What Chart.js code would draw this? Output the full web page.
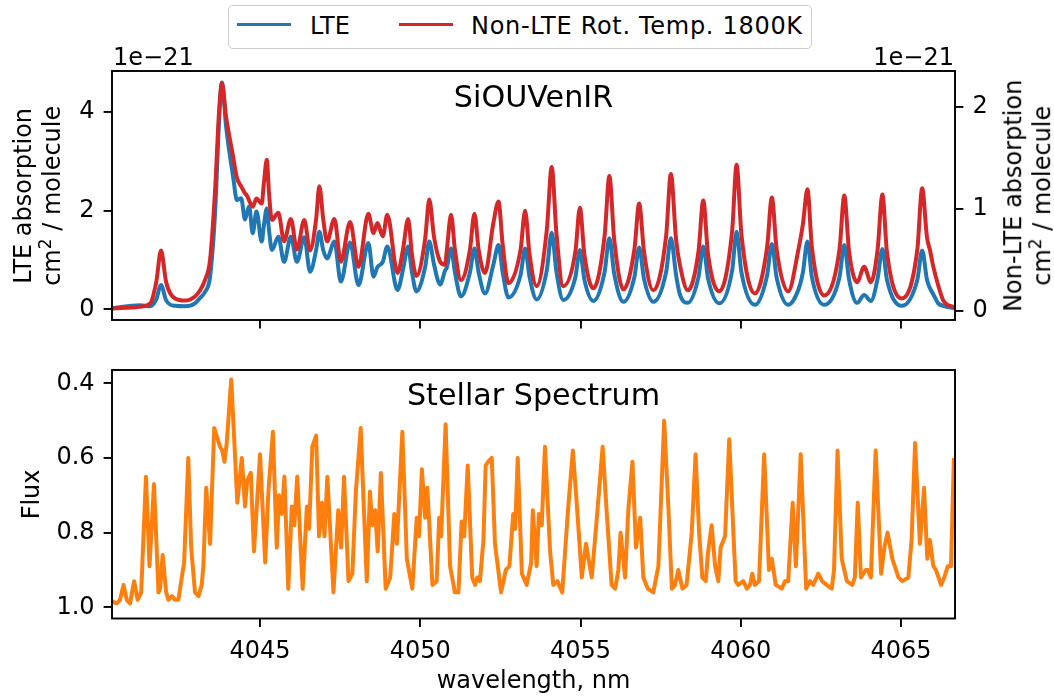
<!DOCTYPE html>
<html>
<head>
<meta charset="utf-8">
<title>SiOUVenIR vs stellar spectrum</title>
<script src="https://cdn.jsdelivr.net/npm/chart.js@4.4.1/dist/chart.umd.min.js"></script>
<style>
  body { margin: 0; background: #fff; font-family: "DejaVu Sans", sans-serif; }
  #wrap { position: relative; width: 1054px; height: 697px; overflow: hidden; background: #fff; }
  canvas { position: absolute; left: 0; top: 0; }
  .txt { position: absolute; white-space: nowrap; line-height: 1; color: #000; font-size: 24px; }
  .title { font-size: 30.2px; text-align: center; width: 600px; }
  .legend-box { position: absolute; left: 228px; top: 5px; width: 584px; height: 44px; box-sizing: border-box;
                border: 1.6px solid #cccccc; border-radius: 5px; background: #fff; }
  .swatch { position: absolute; width: 54px; height: 3.8px; }
  .vlabel { position: absolute; width: 300px; line-height: 28.8px; font-size: 24px; text-align: center;
            white-space: nowrap; transform: rotate(-90deg); transform-origin: 50% 50%; color: #000; }
  .vlabel sup { font-size: 17px; line-height: 0; vertical-align: 9px; }
</style>
</head>
<body>
<div id="wrap">
  <canvas id="absChart" width="1054" height="697"></canvas>
  <canvas id="fluxChart" width="1054" height="697"></canvas>

  <div class="legend-box"></div>
  <div class="swatch" style="left:237px;top:22.6px;background:#1f77b4"></div>
  <div class="txt" style="left:310px;top:14px">LTE</div>
  <div class="swatch" style="left:399px;top:22.6px;background:#d62728"></div>
  <div class="txt" style="left:471px;top:14px;letter-spacing:0.7px">Non-LTE Rot. Temp. 1800K</div>

  <div class="txt" style="left:113px;top:44.7px">1e&minus;21</div>
  <div class="txt" style="right:100px;top:44.7px;text-align:right">1e&minus;21</div>

  <div class="txt title" style="left:233.5px;top:81.5px">SiOUVenIR</div>
  <div class="txt title" style="left:233.5px;top:379.5px">Stellar Spectrum</div>
  <div class="txt" style="left:233.5px;width:600px;text-align:center;top:667.7px">wavelength, nm</div>

  <div class="vlabel" style="left:-112px;top:166.7px">LTE absorption<br>cm<sup>2</sup> / molecule</div>
  <div class="vlabel" style="left:878px;top:166.7px">Non-LTE absorption<br>cm<sup>2</sup> / molecule</div>
  <div class="vlabel" style="left:-119.2px;top:480.1px">Flux</div>
</div>

<script>
// wavelength grid (nm) of the absorption panel, shared by both cross-section curves
const topWavelength = [
  4040.38, 4041.26, 4041.57, 4041.76, 4041.91, 4042.07, 4042.35, 4042.66, 4042.97, 4043.13,
  4043.28, 4043.44, 4043.60, 4043.72, 4043.81, 4043.94, 4044.16, 4044.28, 4044.41, 4044.53,
  4044.59, 4044.66, 4044.77, 4044.89, 4045.05, 4045.12, 4045.21, 4045.28, 4045.37, 4045.57,
  4045.75, 4045.96, 4046.15, 4046.38, 4046.56, 4046.75, 4046.85, 4046.97, 4047.09, 4047.32,
  4047.52, 4047.81, 4048.07, 4048.38, 4048.54, 4048.66, 4048.83, 4048.97, 4049.29, 4049.46,
  4049.62, 4049.74, 4049.88, 4050.15, 4050.28, 4050.43, 4050.62, 4050.77, 4050.83, 4050.96,
  4051.08, 4051.27, 4051.55, 4051.69, 4051.82, 4052.02, 4052.28, 4052.44, 4052.57, 4052.75,
  4053.13, 4053.27, 4053.41, 4053.63, 4053.95, 4054.10, 4054.25, 4054.46, 4054.84, 4054.98,
  4055.12, 4055.40, 4055.75, 4055.90, 4056.05, 4056.34, 4056.68, 4056.83, 4056.98, 4057.27,
  4057.67, 4057.82, 4057.98, 4058.10, 4058.35, 4058.68, 4058.83, 4058.98, 4059.33, 4059.73,
  4059.87, 4060.02, 4060.44, 4060.82, 4060.97, 4061.12, 4061.48, 4061.80, 4061.94, 4062.08,
  4062.22, 4062.60, 4063.08, 4063.23, 4063.38, 4063.63, 4063.85, 4064.06, 4064.27, 4064.42,
  4064.56, 4065.02, 4065.51, 4065.66, 4065.81, 4065.90, 4066.01, 4066.16, 4066.32, 4066.68
];

// LTE absorption, units of 1e-21 cm^2/molecule (left axis)
const lteAbs = [
  0.02, 0.08, 0.06, 0.20, 0.49, 0.18, 0.07, 0.06, 0.12, 0.23,
  0.35, 0.66, 2.00, 3.80, 4.59, 3.70, 2.68, 2.21, 2.25, 1.82,
  1.95, 2.08, 1.54, 1.98, 1.37, 1.70, 2.04, 1.60, 1.20, 1.47,
  0.96, 1.47, 0.96, 1.46, 0.76, 1.20, 1.57, 1.20, 1.03, 1.37,
  0.56, 1.35, 0.49, 1.34, 0.66, 0.85, 0.96, 1.27, 0.39, 0.80,
  1.27, 0.75, 0.36, 0.85, 1.37, 0.90, 0.50, 0.78, 0.85, 1.23,
  0.75, 0.26, 0.75, 1.23, 0.75, 0.32, 0.90, 1.30, 0.75, 0.24,
  0.70, 1.23, 0.65, 0.20, 0.80, 1.55, 0.75, 0.19, 0.65, 1.20,
  0.60, 0.17, 0.75, 1.44, 0.72, 0.15, 0.65, 1.25, 0.62, 0.15,
  0.75, 1.44, 0.70, 0.30, 0.13, 0.65, 1.27, 0.62, 0.12, 0.78,
  1.57, 0.75, 0.09, 0.68, 1.32, 0.64, 0.09, 0.40, 0.75, 1.37,
  0.65, 0.09, 0.65, 1.30, 0.60, 0.13, 0.29, 0.17, 0.62, 1.22,
  0.60, 0.07, 0.60, 1.19, 0.60, 0.43, 0.30, 0.12, 0.07, 0.02
];

// Non-LTE (rot. temp. 1800K) absorption, units of 1e-21 cm^2/molecule (right axis)
const nlteAbs = [
  0.02, 0.04, 0.07, 0.28, 0.59, 0.28, 0.12, 0.10, 0.14, 0.20,
  0.30, 0.50, 1.20, 1.95, 2.23, 1.90, 1.51, 1.30, 1.22, 1.15,
  1.13, 1.08, 1.02, 1.10, 1.05, 1.25, 1.48, 1.15, 0.89, 0.96,
  0.68, 0.90, 0.60, 0.89, 0.59, 0.90, 1.22, 0.90, 0.68, 0.90,
  0.48, 0.87, 0.43, 0.95, 0.76, 0.86, 0.73, 0.94, 0.37, 0.60,
  0.90, 0.55, 0.34, 0.70, 1.09, 0.72, 0.48, 0.45, 0.60, 0.94,
  0.60, 0.30, 0.60, 0.95, 0.60, 0.37, 0.86, 1.07, 0.65, 0.27,
  0.60, 0.98, 0.55, 0.24, 0.80, 1.41, 0.75, 0.24, 0.58, 1.01,
  0.55, 0.22, 0.73, 1.32, 0.70, 0.21, 0.60, 1.05, 0.58, 0.20,
  0.73, 1.34, 0.70, 0.45, 0.20, 0.58, 1.08, 0.55, 0.19, 0.78,
  1.43, 0.75, 0.17, 0.62, 1.11, 0.60, 0.19, 0.60, 0.85, 1.19,
  0.62, 0.15, 0.60, 1.13, 0.58, 0.28, 0.43, 0.28, 0.60, 1.14,
  0.58, 0.12, 0.60, 1.20, 0.72, 0.60, 0.43, 0.25, 0.10, 0.03
];

// stellar spectrum
const fluxWavelength = [
  4040.39, 4040.53, 4040.63, 4040.74, 4040.84, 4040.94, 4041.07, 4041.18, 4041.29, 4041.44,
  4041.55, 4041.69, 4041.83, 4041.88, 4041.96, 4042.07, 4042.14, 4042.25, 4042.35, 4042.45,
  4042.63, 4042.76, 4042.85, 4042.97, 4043.08, 4043.18, 4043.23, 4043.32, 4043.44, 4043.57,
  4043.75, 4043.82, 4043.89, 4043.96, 4044.10, 4044.20, 4044.29, 4044.43, 4044.53, 4044.60,
  4044.71, 4044.81, 4045.00, 4045.16, 4045.26, 4045.40, 4045.52, 4045.59, 4045.68, 4045.76,
  4045.88, 4045.99, 4046.07, 4046.16, 4046.33, 4046.46, 4046.53, 4046.63, 4046.75, 4046.84,
  4046.93, 4047.01, 4047.10, 4047.29, 4047.44, 4047.53, 4047.62, 4047.76, 4047.88, 4047.99,
  4048.14, 4048.33, 4048.43, 4048.50, 4048.59, 4048.67, 4048.77, 4048.92, 4049.06, 4049.19,
  4049.27, 4049.44, 4049.58, 4049.75, 4049.89, 4049.96, 4050.05, 4050.15, 4050.22, 4050.38,
  4050.51, 4050.59, 4050.65, 4050.79, 4050.93, 4051.08, 4051.19, 4051.29, 4051.37, 4051.48,
  4051.62, 4051.71, 4051.78, 4051.86, 4051.97, 4052.04, 4052.12, 4052.23, 4052.33, 4052.52,
  4052.67, 4052.78, 4052.90, 4052.96, 4053.04, 4053.17, 4053.32, 4053.46, 4053.51, 4053.63,
  4053.70, 4053.79, 4053.89, 4054.05, 4054.15, 4054.28, 4054.43, 4054.60, 4054.76, 4054.88,
  4055.04, 4055.17, 4055.35, 4055.51, 4055.69, 4055.82, 4055.97, 4056.08, 4056.18, 4056.25,
  4056.39, 4056.49, 4056.62, 4056.73, 4056.86, 4056.96, 4057.10, 4057.27, 4057.43, 4057.61,
  4057.74, 4057.85, 4057.95, 4058.05, 4058.18, 4058.31, 4058.47, 4058.59, 4058.70, 4058.80,
  4058.91, 4058.97, 4059.09, 4059.20, 4059.30, 4059.37, 4059.51, 4059.64, 4059.77, 4059.84,
  4059.92, 4060.08, 4060.19, 4060.29, 4060.36, 4060.44, 4060.57, 4060.73, 4060.88, 4060.97,
  4061.09, 4061.28, 4061.38, 4061.48, 4061.62, 4061.72, 4061.87, 4062.04, 4062.16, 4062.26,
  4062.42, 4062.54, 4062.68, 4062.84, 4062.91, 4063.02, 4063.15, 4063.31, 4063.48, 4063.56,
  4063.65, 4063.75, 4063.90, 4063.97, 4064.06, 4064.21, 4064.38, 4064.48, 4064.58, 4064.73,
  4064.92, 4065.04, 4065.23, 4065.33, 4065.44, 4065.59, 4065.72, 4065.82, 4065.90, 4066.01,
  4066.09, 4066.25, 4066.35, 4066.46, 4066.56, 4066.65
];

const fluxValues = [
  0.984, 0.99, 0.98, 0.94, 0.98, 0.99, 0.93, 0.98, 0.96, 0.65,
  0.89, 0.67, 0.96, 0.95, 0.86, 0.96, 0.98, 0.97, 0.98, 0.98,
  0.88, 0.60, 0.84, 0.96, 0.97, 0.94, 0.89, 0.68, 0.83, 0.52,
  0.57, 0.58, 0.61, 0.56, 0.39, 0.56, 0.72, 0.60, 0.73, 0.66,
  0.64, 0.85, 0.59, 0.88, 0.69, 0.53, 0.84, 0.70, 0.75, 0.65,
  0.95, 0.73, 0.78, 0.65, 0.95, 0.73, 0.79, 0.57, 0.54, 0.81,
  0.72, 0.81, 0.65, 0.96, 0.74, 0.84, 0.65, 0.93, 0.91, 0.69,
  0.52, 0.93, 0.69, 0.78, 0.74, 0.85, 0.64, 0.95, 0.92, 0.75,
  0.83, 0.53, 0.87, 0.95, 0.76, 0.81, 0.63, 0.76, 0.68, 0.94,
  0.93, 0.76, 0.81, 0.51, 0.89, 0.96, 0.96, 0.77, 0.81, 0.62,
  0.92, 0.94, 0.92, 0.93, 0.82, 0.62, 0.61, 0.60, 0.83, 0.96,
  0.90, 0.89, 0.75, 0.79, 0.60, 0.91, 0.94, 0.88, 0.74, 0.89,
  0.75, 0.78, 0.57, 0.85, 0.94, 0.93, 0.96, 0.75, 0.58, 0.72,
  0.92, 0.83, 0.92, 0.76, 0.57, 0.75, 0.94, 0.95, 0.90, 0.80,
  0.92, 0.74, 0.61, 0.84, 0.76, 0.92, 0.95, 0.96, 0.89, 0.50,
  0.73, 0.95, 0.94, 0.90, 0.95, 0.94, 0.80, 0.59, 0.80, 0.92,
  0.93, 0.86, 0.78, 0.89, 0.93, 0.84, 0.81, 0.55, 0.80, 0.93,
  0.94, 0.93, 0.95, 0.94, 0.91, 0.94, 0.93, 0.59, 0.90, 0.87,
  0.94, 0.95, 0.93, 0.93, 0.72, 0.89, 0.59, 0.95, 0.93, 0.94,
  0.91, 0.93, 0.94, 0.95, 0.90, 0.58, 0.87, 0.93, 0.94, 0.92,
  0.72, 0.92, 0.90, 0.90, 0.92, 0.58, 0.91, 0.84, 0.80, 0.87,
  0.92, 0.93, 0.92, 0.82, 0.56, 0.83, 0.68, 0.87, 0.82, 0.89,
  0.90, 0.94, 0.92, 0.89, 0.89, 0.60
];

const xTicks = [4045, 4050, 4055, 4060, 4065];
const lteTicks = [0, 2, 4];
const nlteTicks = [0, 1, 2];
const fluxTicks = [0.4, 0.6, 0.8, 1.0];

const xMin = 4040.38, xMax = 4066.685;

function pairs(xs, ys) {
    return xs.map((x, i) => ({ x: x, y: ys[i] }));
}

function fixedTicks(values) {
    return scale => { scale.ticks = values.map(v => ({ value: v })); };
}

const tickFont = { family: 'DejaVu Sans', size: 24 };
const gridOpts = { drawOnChartArea: false, drawTicks: true, tickLength: 8.4, color: '#000', lineWidth: 1.9 };
const lineWidth = 4;

// matplotlib style box around the plot area
const framePlugin = {
    id: 'frame',
    afterDatasetsDraw(chart) {
        const a = chart.chartArea;
        const ctx = chart.ctx;
        ctx.save();
        ctx.strokeStyle = '#000';
        ctx.lineWidth = 1.9;
        ctx.strokeRect(a.left, a.top, a.right - a.left, a.bottom - a.top);
        ctx.restore();
    }
};

const common = {
    responsive: false,
    animation: false,
    events: [],
    plugins: { legend: { display: false }, tooltip: { enabled: false } },
    elements: { point: { radius: 0 } }
};

new Chart(document.getElementById('absChart').getContext('2d'), {
    type: 'line',
    data: {
        datasets: [
            {
                label: 'LTE',
                data: pairs(topWavelength, lteAbs),
                yAxisID: 'y',
                borderColor: '#1f77b4',
                borderWidth: lineWidth,
                borderJoinStyle: 'round',
                cubicInterpolationMode: 'monotone',
                fill: false,
                clip: 0,
                order: 1
            },
            {
                label: 'Non-LTE Rot. Temp. 1800K',
                data: pairs(topWavelength, nlteAbs),
                yAxisID: 'y2',
                borderColor: '#d62728',
                borderWidth: lineWidth,
                borderJoinStyle: 'round',
                cubicInterpolationMode: 'monotone',
                fill: false,
                clip: 0,
                order: 0
            }
        ]
    },
    options: Object.assign({}, common, {
        layout: { padding: { top: 71, left: 0, right: 0, bottom: 0 } },
        scales: {
            x: {
                type: 'linear', position: 'bottom', min: xMin, max: xMax,
                afterBuildTicks: fixedTicks(xTicks),
                afterFit: s => { s.height = 377; },
                border: { display: false },
                grid: gridOpts,
                ticks: { display: false }
            },
            y: {
                type: 'linear', position: 'left', min: -0.217, max: 4.824,
                afterBuildTicks: fixedTicks(lteTicks),
                afterFit: s => { s.width = 112; },
                border: { display: false },
                grid: gridOpts,
                ticks: { color: '#000', font: tickFont, padding: 9, callback: v => String(v) }
            },
            y2: {
                type: 'linear', position: 'right', min: -0.091, max: 2.35,
                afterBuildTicks: fixedTicks(nlteTicks),
                afterFit: s => { s.width = 99; },
                border: { display: false },
                grid: gridOpts,
                ticks: { color: '#000', font: tickFont, padding: 9, callback: v => String(v) }
            }
        }
    }),
    plugins: [framePlugin]
});

new Chart(document.getElementById('fluxChart').getContext('2d'), {
    type: 'line',
    data: {
        datasets: [{
            label: 'Flux',
            data: pairs(fluxWavelength, fluxValues),
            borderColor: '#ff7f0e',
            borderWidth: lineWidth,
            borderJoinStyle: 'round',
            tension: 0,
            fill: false,
            clip: 0
        }]
    },
    options: Object.assign({}, common, {
        layout: { padding: { top: 370, left: 0, right: 99, bottom: 0 } },
        scales: {
            x: {
                type: 'linear', position: 'bottom', min: xMin, max: xMax,
                afterBuildTicks: fixedTicks(xTicks),
                afterFit: s => { s.height = 78.5; },
                border: { display: false },
                grid: gridOpts,
                ticks: { color: '#000', font: tickFont, padding: 10, maxRotation: 0, callback: v => String(v) }
            },
            y: {
                type: 'linear', position: 'left', reverse: true, min: 0.3644, max: 1.030,
                afterBuildTicks: fixedTicks(fluxTicks),
                afterFit: s => { s.width = 112; },
                border: { display: false },
                grid: gridOpts,
                ticks: { color: '#000', font: tickFont, padding: 9, callback: v => v.toFixed(1) }
            }
        }
    }),
    plugins: [framePlugin]
});
</script>
</body>
</html>
